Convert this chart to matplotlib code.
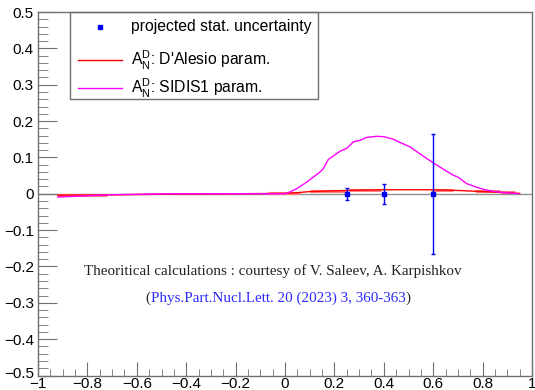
import matplotlib
matplotlib.use("Agg")
import matplotlib.pyplot as plt
import matplotlib.transforms as mtransforms
from matplotlib.lines import Line2D
from matplotlib.patches import Rectangle
from matplotlib.ticker import MultipleLocator, FixedFormatter, FixedLocator

plt.rcParams['font.family'] = ['Liberation Sans', 'DejaVu Sans']
plt.rcParams['mathtext.fontset'] = 'custom'
plt.rcParams['mathtext.rm'] = 'Liberation Sans'
plt.rcParams['mathtext.it'] = 'Liberation Sans'

# ---- data ----
pts_x = [0.25, 0.40, 0.60]
pts_y = [0.0, 0.0, 0.0]
pts_err = [0.017, 0.028, 0.165]

sidis_x = [-0.92, -0.85, -0.78, -0.72, -0.65, -0.55, -0.45, -0.30, -0.15, 0.0,
           0.02, 0.05, 0.088, 0.142, 0.155, 0.175, 0.223, 0.25, 0.277, 0.304,
           0.33, 0.371, 0.40, 0.438, 0.47, 0.506, 0.55, 0.60, 0.64, 0.681,
           0.70, 0.735, 0.78, 0.816, 0.86, 0.91, 0.945]
sidis_y = [-0.009, -0.007, -0.005, -0.003, -0.002, -0.001, 0.0, 0.0, 0.0, 0.0,
           0.005, 0.015, 0.032, 0.060, 0.069, 0.094, 0.117, 0.125, 0.143, 0.147,
           0.155, 0.158, 0.157, 0.150, 0.140, 0.129, 0.108, 0.085, 0.068, 0.051,
           0.046, 0.028, 0.017, 0.010, 0.005, 0.002, 0.0]

dal_x = [-0.92, -0.70, -0.45, -0.20, 0.0, 0.05, 0.10, 0.20, 0.30, 0.40, 0.50,
         0.60, 0.70, 0.80, 0.90, 0.95]
dal_y = [-0.004, -0.003, -0.001, 0.0, 0.001, 0.003, 0.006, 0.008, 0.010, 0.011,
         0.011, 0.011, 0.009, 0.006, 0.003, 0.001]

band_x0 = [-0.92, -0.07, 0.10, 0.26, 0.59, 0.77, 0.87]
band_x1 = [-0.72, 0.06, 0.25, 0.39, 0.68, 0.87, 0.93]
band_y = [-0.003, 0.003, 0.008, 0.011, 0.011, 0.007, 0.004]

x_ticks = [-1, -0.8, -0.6, -0.4, -0.2, 0, 0.2, 0.4, 0.6, 0.8, 1]
x_labels = ['\u22121', '\u22120.8', '\u22120.6', '\u22120.4', '\u22120.2', '0',
            '0.2', '0.4', '0.6', '0.8', '1']
y_ticks = [-0.5, -0.4, -0.3, -0.2, -0.1, 0, 0.1, 0.2, 0.3, 0.4, 0.5]
y_labels = ['\u22120.5', '\u22120.4', '\u22120.3', '\u22120.2', '\u22120.1', '0',
            '0.1', '0.2', '0.3', '0.4', '0.5']

legend_labels = ['projected stat. uncertainty',
                 r"$\mathrm{A_N^D}$: D'Alesio param.",
                 r"$\mathrm{A_N^D}$: SIDIS1 param."]

note_line1 = "Theoritical calculations : courtesy of V. Saleev, A. Karpishkov"
note_line2 = "Phys.Part.Nucl.Lett. 20 (2023) 3, 360-363"

# ---- figure ----
W, H = 535, 390
fig = plt.figure(figsize=(W / 100, H / 100), dpi=100)
L, R, T, B = 38, 532, 12, 375.5
ax = fig.add_axes([L / W, 1 - B / H, (R - L) / W, (B - T) / H])
ax.set_xlim(-1, 1)
ax.set_ylim(-0.5, 0.5)

frame_c = '#707070'
for s in ax.spines.values():
    s.set_color(frame_c)
    s.set_linewidth(1.0)

ax.xaxis.set_major_locator(FixedLocator(x_ticks))
ax.xaxis.set_major_formatter(FixedFormatter(x_labels))
ax.yaxis.set_major_locator(FixedLocator(y_ticks))
ax.yaxis.set_major_formatter(FixedFormatter(y_labels))
ax.xaxis.set_minor_locator(MultipleLocator(0.05))
ax.yaxis.set_minor_locator(MultipleLocator(0.02))
ax.tick_params(axis='both', which='both', direction='in', color=frame_c,
               top=False, right=False, labelsize=11, labelcolor='black')
ax.tick_params(axis='x', which='major', length=10, pad=1)
ax.tick_params(axis='x', which='minor', length=5)
ax.tick_params(axis='y', which='major', length=14, pad=3)
ax.tick_params(axis='y', which='minor', length=7)

# nudge the lowest y label up a little, as in the reference
fig.canvas.draw()
ylab0 = ax.yaxis.get_major_ticks()[0].label1
ylab0.set_transform(ylab0.get_transform() +
                    mtransforms.ScaledTranslation(0, 3 / 100, fig.dpi_scale_trans))

# zero line
ax.axhline(0, color='#909090', lw=1.0, zorder=1)

# D'Alesio band segments and line
ax.hlines(band_y, band_x0, band_x1, colors='#ff8080', lw=2.2, zorder=2)
ax.plot(dal_x, dal_y, color='red', lw=1.0, zorder=3)
# SIDIS1
ax.plot(sidis_x, sidis_y, color='#ff00ff', lw=1.0, zorder=3)
# points
ax.errorbar(pts_x, pts_y, yerr=pts_err, fmt='s', color='#0000ee', ms=3.5,
            elinewidth=1.0, capsize=1.2, zorder=5)

# ---- legend (manual box) ----
def fx(px):
    return px / W

def fy(py):
    return 1 - py / H

fig.add_artist(Rectangle((fx(70), fy(99)), fx(318) - fx(70), fy(12) - fy(99),
                         transform=fig.transFigure, fill=False,
                         edgecolor=frame_c, lw=1.0))
fig.add_artist(Line2D([fx(100)], [fy(27)], marker='s', ms=3.5, color='#0000ee',
                      transform=fig.transFigure, ls='none'))
fig.add_artist(Line2D([fx(78), fx(122)], [fy(60), fy(60)], color='red', lw=1.0,
                      transform=fig.transFigure))
fig.add_artist(Line2D([fx(78), fx(122)], [fy(88), fy(88)], color='#ff00ff', lw=1.0,
                      transform=fig.transFigure))
for lab, py in zip(legend_labels, [27, 60, 88]):
    fig.text(fx(131), fy(py), lab, fontsize=11.3, va='center', ha='left')

# ---- note ----
serif = ['Liberation Serif', 'DejaVu Serif']
fs_note = 10.9
fig.text(fx(273), fy(271), note_line1, family=serif, fontsize=fs_note,
         color='#222222', ha='center', va='center')
rend = fig.canvas.get_renderer()
t_mid = fig.text(fx(278), fy(298), note_line2, family=serif, fontsize=fs_note,
                 color='#2a2aff', ha='center', va='center')
bb = t_mid.get_window_extent(renderer=rend)
fig.text(bb.x0 / W, fy(298), '(', family=serif, fontsize=fs_note, color='#222222',
         ha='right', va='center')
fig.text(bb.x1 / W, fy(298), ')', family=serif, fontsize=fs_note, color='#222222',
         ha='left', va='center')

fig.savefig('out.png', dpi=100)
